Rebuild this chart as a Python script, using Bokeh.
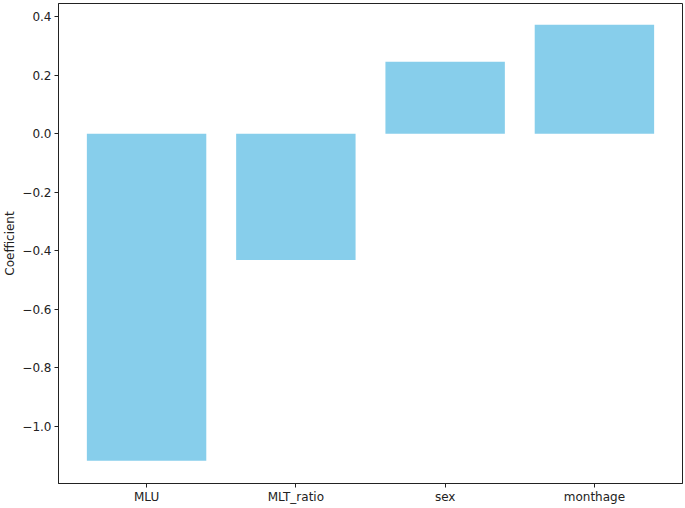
from bokeh.plotting import figure
from bokeh.models import FactorRange, Range1d, FixedTicker
from bokeh.embed import file_html
from bokeh.resources import INLINE

categories = ["MLU", "MLT_ratio", "sex", "monthage"]
coefficients = [-1.117, -0.431, 0.246, 0.372]
y_ticks = [-1.0, -0.8, -0.6, -0.4, -0.2, 0.0, 0.2, 0.4]
y_tick_labels = ["−1.0", "−0.8", "−0.6", "−0.4", "−0.2", "0.0", "0.2", "0.4"]

FONT = "DejaVu Sans"

p = figure(
    width=684, height=506,
    x_range=FactorRange(factors=categories, range_padding=0.045),
    y_range=Range1d(-1.1945, 0.4445),
    output_backend="svg", toolbar_location=None,
    min_border_left=58, min_border_right=2, min_border_top=3, min_border_bottom=0,
)

p.vbar(x=categories, top=coefficients, bottom=0, width=0.8,
       fill_color="#87CEEB", line_color=None)

p.xgrid.visible = False
p.ygrid.visible = False
p.outline_line_color = "#222222"
p.outline_line_width = 1

for ax in (p.xaxis[0], p.yaxis[0]):
    ax.major_label_text_font = FONT
    ax.major_label_text_font_size = "12px"
    ax.major_label_text_color = "#222222"
    ax.axis_line_color = "#222222"
    ax.major_tick_line_color = "#222222"
    ax.major_tick_out = 4
    ax.major_tick_in = 0
    ax.minor_tick_out = 0
    ax.minor_tick_in = 0
    ax.major_label_standoff = 3

p.xaxis.major_label_standoff = 2
p.yaxis.ticker = FixedTicker(ticks=y_ticks)
p.yaxis.major_label_overrides = {t: l for t, l in zip(y_ticks, y_tick_labels)}
p.yaxis.axis_label = "Coefficient"
p.yaxis.axis_label_text_font = FONT
p.yaxis.axis_label_text_font_size = "12px"
p.yaxis.axis_label_text_font_style = "normal"
p.yaxis.axis_label_text_color = "#222222"
p.yaxis.axis_label_standoff = 2

open("out.html", "w").write(file_html(p, INLINE))
